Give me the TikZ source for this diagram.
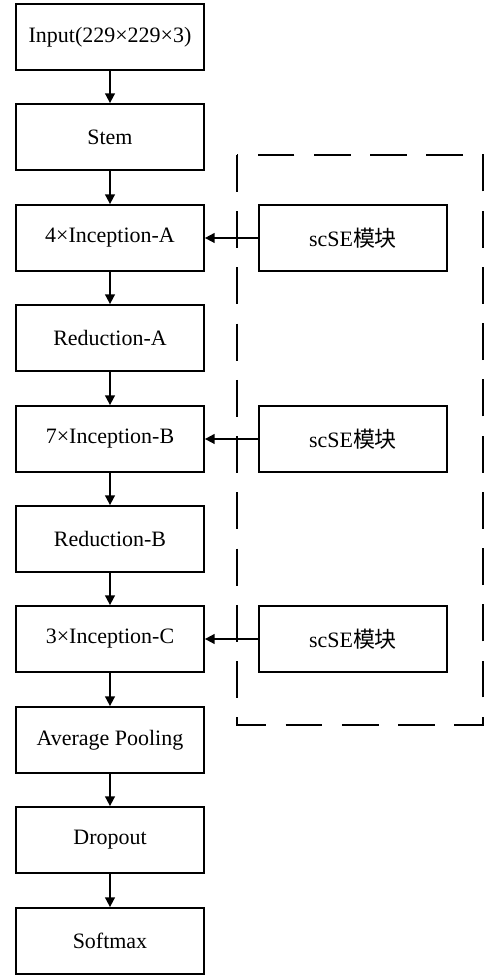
\documentclass[tikz,border=0pt]{standalone}
\usepackage{fontspec}
\setmainfont{Liberation Serif}
\newfontfamily\cjk{Noto Sans CJK SC}
\usetikzlibrary{arrows.meta}
\usetikzlibrary{shapes}

\tikzset{
    blk/.style={draw, line width=1pt, minimum width=3.76cm, minimum height=1.32cm,
        inner sep=0pt, font=\fontsize{12.5}{15}\selectfont},
    flow/.style={-{Triangle[length=5.6pt,width=5.6pt]}, line width=1pt},
    grp/.style={line width=1pt, dash pattern=on 21pt off 11pt}
}

\begin{document}
\begin{tikzpicture}
    \useasboundingbox (0,0) rectangle (9.7,19.52);

    \node[blk] (In) at (2.2,18.78) {Input(229×229×3)};
    \node[blk] (Stem) at (2.2,16.78) {Stem};
    \node[blk] (IA) at (2.2,14.76) {4×Inception-A};
    \node[blk] (RA) at (2.2,12.76) {Reduction-A};
    \node[blk] (IB) at (2.2,10.74) {7×Inception-B};
    \node[blk] (RB) at (2.2,8.74) {Reduction-B};
    \node[blk] (IC) at (2.2,6.74) {3×Inception-C};
    \node[blk] (AP) at (2.2,4.72) {Average Pooling};
    \node[blk] (DO) at (2.2,2.72) {Dropout};
    \node[blk] (SM) at (2.2,0.70) {Softmax};

    \node[blk] (SE1) at (7.06,14.76) {scSE{\cjk 模块}};
    \node[blk] (SE2) at (7.06,10.74) {scSE{\cjk 模块}};
    \node[blk] (SE3) at (7.06,6.74) {scSE{\cjk 模块}};

    % dashed group round the scSE blocks
    \draw[grp] (4.74,16.42) rectangle (9.66,5.02);

    \draw[flow] (In) to (Stem);
    \draw[flow] (Stem) to (IA);
    \draw[flow] (IA) to (RA);
    \draw[flow] (RA) to (IB);
    \draw[flow] (IB) to (RB);
    \draw[flow] (RB) to (IC);
    \draw[flow] (IC) to (AP);
    \draw[flow] (AP) to (DO);
    \draw[flow] (DO) to (SM);

    \draw[flow] (SE1) to (IA);
    \draw[flow] (SE2) to (IB);
    \draw[flow] (SE3) to (IC);
\end{tikzpicture}
\end{document}
